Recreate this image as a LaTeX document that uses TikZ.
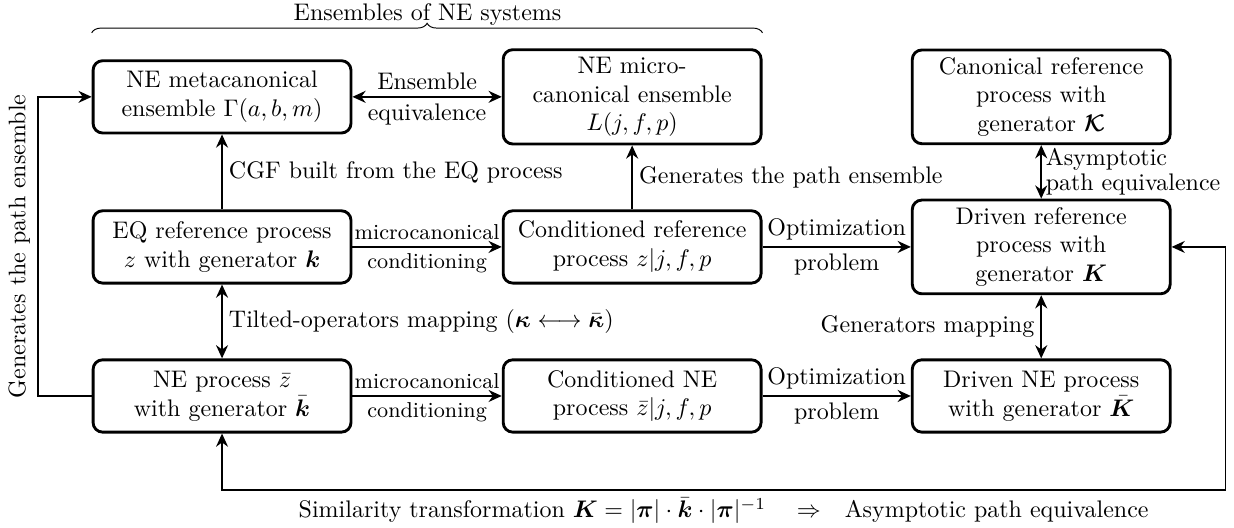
\documentclass[tikz,border=0pt]{standalone}
\usepackage{amsmath,amssymb,bm}
\usetikzlibrary{arrows.meta,decorations.pathreplacing}

\tikzset{
  procbox/.style={draw,line width=1.2pt,rounded corners=4pt,align=center,
    text width=3.57cm,inner sep=3pt,minimum height=1.06cm},
  flow/.style={line width=0.8pt,-{Stealth[length=5.5pt,width=5pt,inset=1.8pt]}},
  twoway/.style={line width=0.8pt,{Stealth[length=5.5pt,width=5pt,inset=1.8pt]}-{Stealth[length=5.5pt,width=5pt,inset=1.8pt]}},
  loopline/.style={line width=0.55pt},
  lbl/.style={inner sep=2.5pt}
}

\begin{document}
\begin{tikzpicture}[x=1cm,y=1cm]
\path[use as bounding box] (0,0) rectangle (18.09,7.74);

% top row: ensembles and canonical process
\node[procbox] (meta)  at (3.255,6.320) {NE metacanonical\\ensemble $\Gamma(a,b,m)$};
\node[procbox] (micro) at (9.267,6.320) {NE micro-\\canonical ensemble\\$L(j,f,p)$};
\node[procbox] (canon) at (15.264,6.320) {Canonical reference\\process with\\generator $\bm{\mathcal{K}}$};

% middle row: reference processes
\node[procbox] (eqref)   at (3.255,4.120) {EQ reference process\\$z$ with generator $\bm{k}$};
\node[procbox] (condref) at (9.267,4.120) {Conditioned reference\\process $z|j,f,p$};
\node[procbox] (drvref)  at (15.264,4.120) {Driven reference\\process with\\generator $\bm{K}$};

% bottom row: NE processes
\node[procbox] (neproc) at (3.255,1.935) {NE process $\bar{z}$\\with generator $\bar{\bm{k}}$};
\node[procbox] (condne) at (9.267,1.935) {Conditioned NE\\process $\bar{z}|j,f,p$};
\node[procbox] (drvne)  at (15.264,1.935) {Driven NE process\\with generator $\bar{\bm{K}}$};

% brace over the ensembles
\draw[decorate,decoration={brace,amplitude=4pt},line width=0.4pt]
  (meta.west |- 0,7.258) -- (micro.east |- 0,7.258);
\node (ens) at (6.267,7.52) {Ensembles of NE systems};

% horizontal links
\draw[twoway] (meta.east) -- node[above,lbl] {Ensemble} node[below,lbl] {equivalence} (micro.west);
\draw[flow] (eqref.east) -- node[above,lbl] {\small microcanonical} node[below,lbl] {\small conditioning} (condref.west);
\draw[flow] (condref.east) -- node[above,lbl] {Optimization} node[below,lbl] {problem} (drvref.west);
\draw[flow] (neproc.east) -- node[above,lbl] {\small microcanonical} node[below,lbl] {\small conditioning} (condne.west);
\draw[flow] (condne.east) -- node[above,lbl] {Optimization} node[below,lbl] {problem} (drvne.west);

% vertical links
\draw[flow] (eqref.north) -- node[right,lbl] {CGF built from the EQ process} (meta.south);
\draw[flow] (condref.north) -- node[right,lbl] {Generates the path ensemble} (micro.south);
\draw[twoway] (canon.south) -- node[right,inner sep=1.5pt,align=left] {Asymptotic\\[-1.5pt]path equivalence} (drvref.north);
\draw[twoway] (eqref.south) -- node[right,lbl] {Tilted-operators mapping $(\bm{\kappa}\longleftrightarrow\bar{\bm{\kappa}})$} (neproc.north);
\draw[twoway] (drvref.south) -- node[left,lbl] {Generators mapping} (drvne.north);

% outer loops
\coordinate (lx) at (0.557,0);
\coordinate (rx) at (17.962,0);
\coordinate (by) at (0,0.557);
\draw[loopline,-{Stealth[length=5.5pt,width=5pt,inset=1.8pt]}]
  (neproc.west) -- (neproc.west -| lx)
  -- node[rotate=90,anchor=south,inner sep=3pt] {Generates the path ensemble} (meta.west -| lx)
  -- (meta.west);
\draw[loopline,{Stealth[length=5.5pt,width=5pt,inset=1.8pt]}-{Stealth[length=5.5pt,width=5pt,inset=1.8pt]}]
  (neproc.south) -- (neproc.south |- by)
  -- node[below,inner sep=3pt] {Similarity transformation $\bm{K}=|\bm{\pi}|\cdot\bar{\bm{k}}\cdot|\bm{\pi}|^{-1}\quad\Rightarrow\quad$Asymptotic path equivalence} (rx |- by)
  -- (rx |- drvref.east) -- (drvref.east);
\end{tikzpicture}
\end{document}
